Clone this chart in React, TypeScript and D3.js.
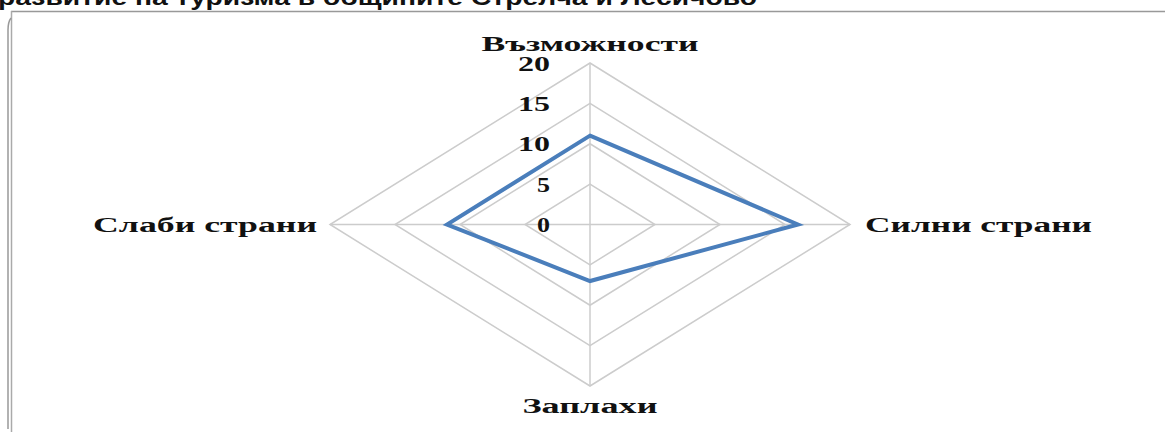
import React from "react";
import * as d3 from "d3";

const categories = ["Възможности", "Силни страни", "Заплахи", "Слаби страни"];
const values = [11, 16, 7, 11];
const ticks = [0, 5, 10, 15, 20];
const title = "развитие на туризма в общините Стрелча и Лесичово";

const W = 1165;
const H = 432;
const cx = 590;
const cy = 224.5;

export default function App() {
  const rX = d3.scaleLinear().domain([0, 20]).range([0, 260]);
  const rY = d3.scaleLinear().domain([0, 20]).range([0, 161.5]);
  const n = categories.length;
  const ang = (i: number) => (i / n) * Math.PI * 2;
  const px = (i: number, v: number) => cx + rX(v) * Math.sin(ang(i));
  const py = (i: number, v: number) => cy - rY(v) * Math.cos(ang(i));

  const line = d3
    .line<number>()
    .x((d, i) => px(i, d))
    .y((d, i) => py(i, d))
    .curve(d3.curveLinearClosed);

  const ring = (v: number) =>
    d3
      .line<number>()
      .x((_, i) => px(i, v))
      .y((_, i) => py(i, v))
      .curve(d3.curveLinearClosed)(categories.map(() => v)) as string;

  const labelWidths = [217, 227, 135, 224];
  const labelPos = [
    { x: cx, y: 51, anchor: "middle" },
    { x: 865, y: 232, anchor: "start" },
    { x: cx, y: 413, anchor: "middle" },
    { x: 317, y: 232, anchor: "end" },
  ];

  return (
    <svg
      width={W}
      height={H}
      style={{ position: "absolute", left: 0, top: 0, background: "#fff" }}
    >
      <text
        x={-2}
        y={5}
        fontFamily="'Liberation Sans', Arial, sans-serif"
        fontWeight="bold"
        fontSize={22}
        fill="#111"
        textLength={759}
        lengthAdjust="spacingAndGlyphs"
      >
        {title}
      </text>
      {/* frame */}
      <line x1={11} y1={11.5} x2={W} y2={11.5} stroke="#999" strokeWidth={1.5} />
      <line x1={11.5} y1={11} x2={11.5} y2={H} stroke="#aaa" strokeWidth={1.5} />
      <path d={`M8,${H - 3} L8,30 Q8,22 11,18`} fill="none" stroke="#999" strokeWidth={1.5} />

      {/* grid rings */}
      {ticks
        .filter((t) => t > 0)
        .map((t) => (
          <path key={t} d={ring(t)} fill="none" stroke="#cccccc" strokeWidth={1.5} />
        ))}
      {/* spokes */}
      {categories.map((c, i) => (
        <line
          key={c}
          x1={cx}
          y1={cy}
          x2={px(i, 20)}
          y2={py(i, 20)}
          stroke="#cccccc"
          strokeWidth={1.5}
        />
      ))}
      {/* series */}
      <path
        d={line(values) as string}
        fill="none"
        stroke="#4a7ebb"
        strokeWidth={4}
        strokeLinejoin="miter"
      />
      {/* tick labels */}
      {ticks.map((t) => (
        <text
          key={t}
          x={cx - 40}
          y={cy - rY(t) + 7.5}
          textAnchor="end"
          fontFamily="'Liberation Serif', 'Times New Roman', serif"
          fontWeight="bold"
          fontSize={20}
          fill="#111"
          textLength={t >= 10 ? 32 : 13}
          lengthAdjust="spacingAndGlyphs"
        >
          {t}
        </text>
      ))}
      {/* category labels */}
      {categories.map((c, i) => (
        <text
          key={c}
          x={labelPos[i].x}
          y={labelPos[i].y}
          textAnchor={labelPos[i].anchor as any}
          fontFamily="'Liberation Serif', 'Times New Roman', serif"
          fontWeight="bold"
          fontSize={20}
          fill="#111"
          textLength={labelWidths[i]}
          lengthAdjust="spacingAndGlyphs"
        >
          {c}
        </text>
      ))}
    </svg>
  );
}
